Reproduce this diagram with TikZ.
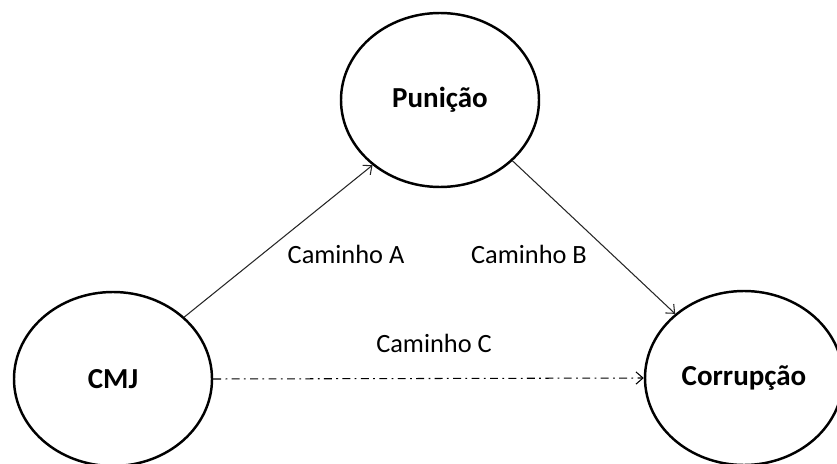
\documentclass[tikz,border=0pt]{standalone}
\usepackage{fontspec}
\setmainfont{Carlito}
\usetikzlibrary{arrows.meta, shapes.geometric, calc}
\tikzset{
    my-var/.style={
        ellipse, draw, line width=1.4pt, minimum width=3.96cm, minimum height=3.48cm,
        inner sep=0pt, font=\fontsize{16.5}{19}\selectfont\bfseries
    },
    my-path/.style={
        draw, line width=0.6pt, draw=black!85, -{Straight Barb[length=4pt, width=7pt]}
    },
    my-label/.style={
        font=\fontsize{15}{18}\selectfont, inner sep=0pt
    },
}

\begin{document}
\begin{tikzpicture}

        \useasboundingbox (0, 0) rectangle (16.74, 9.26);

        % VARIABLES
        \node[my-var] (CMJ)  at (2.26, 1.68)                {CMJ};
        \node[my-var] (PUN)  at ($(CMJ) + (6.54, 5.58)$)   {Puni\c{c}\~ao};
        \node[my-var] (CORR) at ($(CMJ) + (12.62, 0.02)$)  {Corrup\c{c}\~ao};

        % PATHS
        \draw[my-path] (CMJ.41)  -- (PUN.224);
        \draw[my-path] (PUN.320) -- (CORR.137);
        \draw[my-path, draw=black, dash pattern=on 4.5pt off 2.5pt on 1pt off 2.5pt] (CMJ.east) -- (CORR.west);

        % PATH LABELS
        \node[my-label] (LABA) at ($(CMJ) + (4.66, 2.50)$)  {Caminho A};
        \node[my-label] (LABB) at ($(CMJ) + (8.32, 2.50)$)  {Caminho B};
        \node[my-label] (LABC) at ($(CMJ) + (6.42, 0.72)$)  {Caminho C};

    \end{tikzpicture}
\end{document}
